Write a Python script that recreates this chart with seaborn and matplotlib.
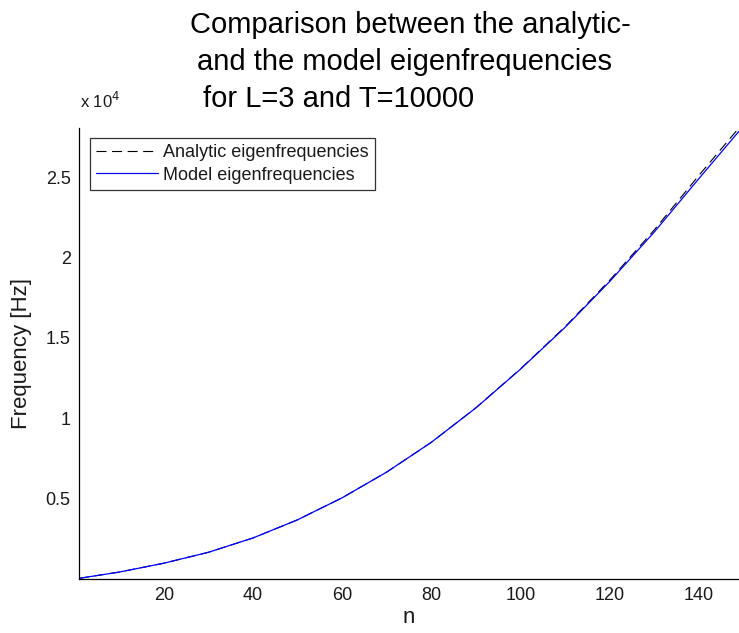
import matplotlib
matplotlib.use("Agg")
import matplotlib.pyplot as plt
import seaborn as sns
import pandas as pd

n_values = [1, 10, 20, 30, 40, 50, 60, 70, 80, 90, 100, 110, 120, 130, 140, 149]
model_freq = [40, 430, 980, 1660, 2550, 3680, 5050, 6650, 8500, 10640, 13050, 15650, 18500, 21580, 24900, 27850]
analytic_freq = [40, 430, 980, 1660, 2550, 3680, 5050, 6650, 8500, 10650, 13070, 15690, 18580, 21710, 25100, 28060]
x_ticks = [20, 40, 60, 80, 100, 120, 140]
y_ticks = [5000, 10000, 15000, 20000, 25000]
y_tick_labels = ["0.5", "1", "1.5", "2", "2.5"]

sns.set_theme(style="white")
plt.rcParams['font.family'] = ['Liberation Sans', 'DejaVu Sans']
plt.rcParams['text.color'] = 'black'
plt.rcParams['axes.labelcolor'] = 'black'

df = pd.DataFrame({"n": n_values, "Analytic": analytic_freq, "Model": model_freq})

fig = plt.figure(figsize=(7.39, 6.33), dpi=100)
ax = fig.add_axes([79/739, 1-579/633, 1-79/739, (579-128)/633])

sns.lineplot(data=df, x="n", y="Analytic", ax=ax, color="black", linewidth=0.8,
             linestyle=(0, (9, 5)), label="Analytic eigenfrequencies")
sns.lineplot(data=df, x="n", y="Model", ax=ax, color="#0000ff", linewidth=0.9,
             label="Model eigenfrequencies")

ax.set_xlim(1, 149)
ax.set_ylim(0, 28050)
ax.set_xticks(x_ticks)
ax.set_xticklabels([str(t) for t in x_ticks])
ax.set_yticks(y_ticks)
ax.set_yticklabels(y_tick_labels)
ax.tick_params(direction="in", length=5, width=0.8, labelsize=13, colors="black",
               labelcolor="#1a1a1a", pad=6)
for s in ["top", "right"]:
    ax.spines[s].set_visible(False)
for s in ["left", "bottom"]:
    ax.spines[s].set_color("black")
    ax.spines[s].set_linewidth(0.9)

ax.set_xlabel("n", fontsize=16, labelpad=2, color="#1a1a1a")
ax.set_ylabel("Frequency [Hz]", fontsize=16, labelpad=10, color="#1a1a1a")

fig.text(80/739, 1-108/633, "x 10$^{4}$", fontsize=12, ha="left", va="baseline", color="#1a1a1a")

leg = ax.legend(loc="upper left", bbox_to_anchor=(11/660, 1-10/451), fontsize=13,
                frameon=True, fancybox=False, handlelength=3.4, handletextpad=0.3,
                borderpad=0.35, labelspacing=0.3, borderaxespad=0)
leg.get_frame().set_edgecolor("black")
leg.get_frame().set_linewidth(0.9)
for t in leg.get_texts():
    t.set_color("#1a1a1a")

title_lines = ["Comparison between the analytic-", "and the model eigenfrequencies", "for L=3 and T=10000"]
title_x = [190, 197, 203]
title_y = [25, 62, 99]
for line, tx, ty in zip(title_lines, title_x, title_y):
    fig.text(tx/739, 1-ty/633, line, fontsize=21, ha="left", va="center", color="black")

fig.savefig("out.png", dpi=100)
